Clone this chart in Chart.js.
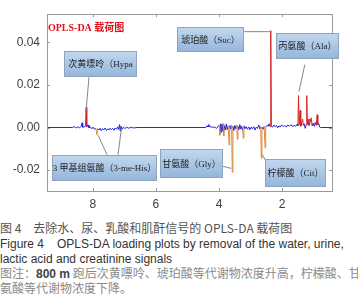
<!DOCTYPE html>
<html>
<head>
<meta charset="utf-8">
<script src="https://cdn.jsdelivr.net/npm/chart.js@4.4.1/dist/chart.umd.min.js"></script>
<style>
  html, body { margin: 0; padding: 0; background: #fff; }
  #wrap { position: relative; width: 358px; height: 300px; overflow: hidden; }
  #chartBox { position: absolute; left: 0; top: 0; width: 358px; height: 215px; }
  .cap { position: absolute; left: 0; white-space: nowrap; font-size: 12px; line-height: 14px; }
  .cn { font-family: "Noto Sans CJK SC", sans-serif; color: #555; }
  .en { font-family: "Liberation Sans", Arial, sans-serif; color: #333; }
  .note { font-family: "Noto Sans CJK SC", sans-serif; color: #8a8a8a; }
  .note b { font-family: "Liberation Sans", Arial, sans-serif; color: #444; }
</style>
</head>
<body>
<div id="wrap">
  <div id="chartBox"><canvas id="c"></canvas></div>
  <div class="cap cn" style="top:221px;">图 4<span style="margin-left:12px;">去除水、尿、乳酸和肌酐信号的 OPLS-DA 载荷图</span></div>
  <div class="cap en" style="top:237px;">Figure 4<span style="margin-left:13px;">OPLS-DA loading plots by removal of the water, urine,</span></div>
  <div class="cap en" style="top:252px;">lactic acid and creatinine signals</div>
  <div class="cap note" style="top:266px;">图注：<b>800 m</b> 跑后次黄嘌呤、琥珀酸等代谢物浓度升高，柠檬酸、甘</div>
  <div class="cap note" style="top:281px;">氨酸等代谢物浓度下降。</div>
</div>
<script>
// ---- data (chemical shift, ppm, and OPLS-DA loading) ----
const ppm = [
  9.45, 8.65, 8.58, 8.52, 8.47, 8.42, 8.36, 8.34, 8.32, 8.27, 8.23, 8.21, 8.19, 8.15, 8.12, 8.08,
  8.03, 7.99, 7.95, 7.90, 7.87, 7.85, 7.81, 7.77, 7.73, 7.69, 7.65, 7.61, 7.57, 7.53, 7.49, 7.45,
  7.41, 7.37, 7.33, 7.29, 7.25, 7.21, 7.18, 7.15, 7.13, 7.11, 7.07, 7.03, 6.98, 6.93, 6.86, 6.78,
  6.70, 6.60, 4.42, 4.38, 4.35, 4.32, 4.29, 4.25, 4.21, 4.15, 4.08, 4.03, 3.99, 3.97, 3.95, 3.93,
  3.91, 3.89, 3.87, 3.85, 3.83, 3.80, 3.77, 3.74, 3.71, 3.68, 3.66, 3.63, 3.60, 3.58, 3.56, 3.53,
  3.50, 3.47, 3.44, 3.42, 3.40, 3.37, 3.34, 3.31, 3.28, 3.25, 3.23, 3.21, 3.18, 3.14, 3.10, 3.06,
  3.02, 2.98, 2.94, 2.90, 2.86, 2.82, 2.78, 2.74, 2.71, 2.68, 2.66, 2.64, 2.60, 2.57, 2.54, 2.52,
  2.48, 2.44, 2.41, 2.38, 2.36, 2.34, 2.30, 2.26, 2.22, 2.18, 2.14, 2.10, 2.06, 2.02, 1.97, 1.92,
  1.87, 1.82, 1.77, 1.72, 1.67, 1.62, 1.57, 1.52, 1.50, 1.48, 1.46, 1.43, 1.41, 1.38, 1.35, 1.33,
  1.30, 1.27, 1.24, 1.22, 1.20, 1.17, 1.15, 1.12, 1.08, 1.05, 1.02, 0.98, 0.95, 0.92, 0.89, 0.87,
  0.84, 0.81, 0.78, 0.42
];
const loading = [
  0, 0, 0.0004, -0.0002, 0.0003, -0.0001, 0.0006, 0.0022, 0.0001, 0.0004, 0.0006, 0.0095, 0.0004, 0.0012, -0.0002, 0.0003,
  -0.0006, 0.0002, -0.0008, -0.0004, -0.0034, -0.0006, -0.0012, -0.0003, -0.0015, -0.0005, -0.0011, -0.0002, -0.0014, -0.0006, -0.0012, -0.0003,
  -0.0010, -0.0004, -0.0013, -0.0002, -0.0008, 0.0003, -0.0009, 0.0014, -0.0016, 0.0006, -0.0008, 0.0002, -0.0005, 0.0002, -0.0003, 0.0001,
  -0.0002, 0, 0, 0.0008, 0.0003, 0.0014, 0.0002, 0.0004, 0.0001, 0.0002, -0.0003, 0.0004, 0.0012, -0.0036, 0.0018, -0.0022,
  0.0015, -0.0015, 0.0019, -0.0040, 0.0008, -0.0012, 0.0016, -0.0010, 0.0008, -0.0082, 0.0010, -0.0006, 0.0012, -0.0210, 0.0006, -0.0014,
  0.0010, -0.0006, 0.0012, -0.0055, 0.0006, -0.0010, 0.0014, -0.0008, 0.0006, -0.0012, -0.0050, 0.0008, -0.0006, 0.0004, -0.0008, 0.0003,
  -0.0010, 0.0002, -0.0006, 0.0004, -0.0012, 0.0002, -0.0004, 0.0012, -0.0006, 0.0004, -0.0145, 0.0002, -0.0008, 0.0006, -0.0095, 0.0002,
  0.0010, 0.0006, 0.0018, 0.0004, 0.0455, 0.0006, 0.0002, 0.0012, 0.0004, 0.0010, -0.0002, 0.0008, 0.0003, 0.0012, 0.0005, 0.0010,
  0.0002, 0.0012, 0.0006, 0.0014, 0.0004, 0.0010, 0.0006, 0.0016, 0.0008, 0.0150, 0.0012, 0.0080, 0.0006, 0.0020, 0.0040, 0.0010,
  0.0018, -0.0004, 0.0012, 0.0150, 0.0014, 0.0040, 0.0010, 0.0022, 0.0045, 0.0008, 0.0020, 0.0006, 0.0024, 0.0010, 0.0060, 0.0012,
  0.0018, 0.0002, 0, 0
];
const xTickValues = [8, 6, 4, 2];
const yTickValues = [-0.02, 0, 0.02, 0.04];
const labelTexts = ['次黄嘌呤（Hypa', '琥珀酸（Suc）', '丙氨酸（Ala）', '3 甲基组氨酸（3-me-His）', '甘氨酸（Gly）', '柠檬酸（Cit）'];
const titleText = 'OPLS-DA 载荷图';

// ---- annotation placement (in data coordinates) ----
const boxes = [
  { text: labelTexts[0], x0: 8.91, x1: 6.60, y0: 0.0359, y1: 0.0236 },
  { text: labelTexts[1], x0: 5.33, x1: 3.20, y0: 0.0473, y1: 0.0355 },
  { text: labelTexts[2], x0: 2.19, x1: 0.19, y0: 0.0445, y1: 0.0323 },
  { text: labelTexts[3], x0: 9.29, x1: 5.96, y0: -0.0127, y1: -0.0250 },
  { text: labelTexts[4], x0: 5.86, x1: 3.87, y0: -0.0100, y1: -0.0236 },
  { text: labelTexts[5], x0: 2.53, x1: 0.60, y0: -0.0150, y1: -0.0277 }
];
const connectors = [
  [[8.12, 0.0236], [8.21, 0.0082]],
  [[3.20, 0.0450], [2.36, 0.0450]],
  [[1.28, 0.0295], [1.47, 0.0168]],
  [[7.55, -0.0127], [7.83, -0.0036]],
  [[7.20, -0.0127], [7.10, -0.0014]],
  [[3.87, -0.0182], [3.61, -0.0192]],
  [[2.52, -0.0155], [2.64, -0.0125]]
];
const titlePos = { x: 9.42, y: 0.0464 };

const annotationPlugin = {
  id: 'annots',
  afterDatasetsDraw(chart) {
    const ctx = chart.ctx, xs = chart.scales.x, ys = chart.scales.y, a = chart.chartArea;
    ctx.save();
    // frame
    ctx.strokeStyle = '#9a9a9a'; ctx.lineWidth = 1;
    ctx.strokeRect(Math.round(a.left) + 0.5, Math.round(a.top) + 0.5, Math.round(a.right - a.left), Math.round(a.bottom - a.top));
    // inward tick marks on all four sides
    ctx.beginPath();
    xTickValues.forEach(v => {
      const px = Math.round(xs.getPixelForValue(v)) + 0.5;
      ctx.moveTo(px, a.bottom); ctx.lineTo(px, a.bottom - 3);
      ctx.moveTo(px, a.top); ctx.lineTo(px, a.top + 3);
    });
    yTickValues.forEach(v => {
      const py = Math.round(ys.getPixelForValue(v)) + 0.5;
      ctx.moveTo(a.left, py); ctx.lineTo(a.left + 3, py);
      ctx.moveTo(a.right, py); ctx.lineTo(a.right - 3, py);
    });
    ctx.stroke();
    // connectors
    ctx.strokeStyle = '#7d8794'; ctx.lineWidth = 1;
    connectors.forEach(([p, q]) => {
      ctx.beginPath();
      ctx.moveTo(xs.getPixelForValue(p[0]), ys.getPixelForValue(p[1]));
      ctx.lineTo(xs.getPixelForValue(q[0]), ys.getPixelForValue(q[1]));
      ctx.stroke();
    });
    // boxes
    boxes.forEach(b => {
      const l = Math.round(xs.getPixelForValue(b.x0)), r = Math.round(xs.getPixelForValue(b.x1));
      const t = Math.round(ys.getPixelForValue(b.y0)), btm = Math.round(ys.getPixelForValue(b.y1));
      const g = ctx.createLinearGradient(0, t, 0, btm);
      g.addColorStop(0, '#c3d8ef'); g.addColorStop(1, '#93b5db');
      ctx.fillStyle = g;
      ctx.fillRect(l, t, r - l, btm - t);
      ctx.strokeStyle = '#8fa3ba';
      ctx.strokeRect(l + 0.5, t + 0.5, r - l - 1, btm - t - 1);
      ctx.fillStyle = '#1e1e1e';
      ctx.font = '9px "Liberation Serif", "Noto Sans CJK SC", serif';
      ctx.textAlign = 'center'; ctx.textBaseline = 'middle';
      ctx.fillText(b.text, (l + r) / 2, (t + btm) / 2 + 1);
    });
    // title
    ctx.fillStyle = '#e3121a';
    ctx.font = 'bold 10px "Liberation Serif", "Noto Sans CJK SC", serif';
    ctx.textAlign = 'left'; ctx.textBaseline = 'middle';
    ctx.fillText(titleText, xs.getPixelForValue(titlePos.x), ys.getPixelForValue(titlePos.y));
    ctx.restore();
  }
};

const TH = 0.0028;
function segColor(c) {
  const a = c.p0.parsed.y, b = c.p1.parsed.y;
  const m = Math.abs(a) > Math.abs(b) ? a : b;
  if (Math.abs(m) < TH) return '#2424d6';
  return m > 0 ? '#d42424' : '#d98a3c';
}

new Chart(document.getElementById('c'), {
  type: 'line',
  data: {
    datasets: [{
      data: ppm.map((p, i) => ({ x: p, y: loading[i] })),
      borderColor: '#2424d6',
      borderWidth: 1,
      pointRadius: 0,
      tension: 0,
      fill: false,
      segment: { borderColor: segColor }
    }]
  },
  options: {
    responsive: true,
    maintainAspectRatio: false,
    devicePixelRatio: 1,
    animation: false,
    layout: { padding: { top: 8, right: 26, left: 0, bottom: 0 } },
    plugins: { legend: { display: false }, tooltip: { enabled: false } },
    scales: {
      x: {
        type: 'linear', reverse: true, min: 0.42, max: 9.45,
        afterBuildTicks: s => { s.ticks = xTickValues.map(v => ({ value: v })); },
        afterFit: s => { s.height = 24; },
        grid: { display: false, drawTicks: false },
        border: { display: false },
        ticks: { color: '#404040', padding: 6, font: { family: '"Liberation Sans", Arial, sans-serif', size: 12 }, callback: v => String(v) }
      },
      y: {
        type: 'linear', min: -0.0298, max: 0.0532,
        afterBuildTicks: s => { s.ticks = yTickValues.map(v => ({ value: v })); },
        afterFit: s => { s.width = 47; },
        grid: { display: false, drawTicks: false },
        border: { display: false },
        ticks: { color: '#404040', padding: 7, font: { family: '"Liberation Sans", Arial, sans-serif', size: 12 }, callback: v => Number(v).toFixed(2) }
      }
    }
  },
  plugins: [annotationPlugin]
});
</script>
</body>
</html>
